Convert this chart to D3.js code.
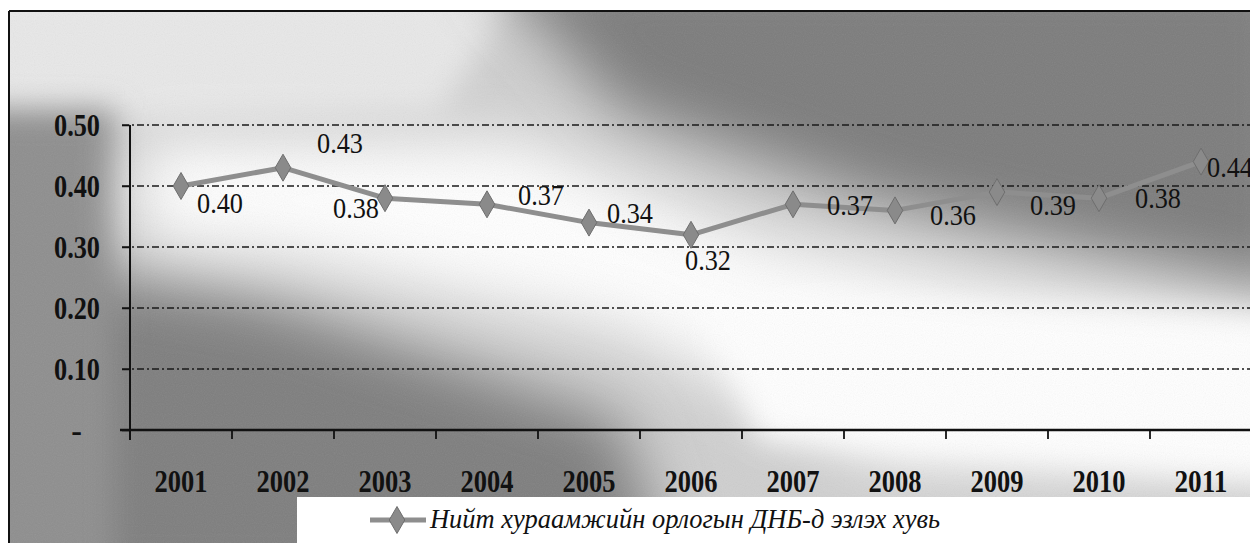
<!DOCTYPE html>
<html>
<head>
<meta charset="utf-8">
<script src="https://cdn.jsdelivr.net/npm/d3@7"></script>
<style>
  html, body { margin: 0; padding: 0; background: #fff; }
  svg { display: block; }
</style>
</head>
<body>
<div id="chart"></div>
<script>
// data
const years = ["2001", "2002", "2003", "2004", "2005", "2006", "2007", "2008", "2009", "2010", "2011"];
const shares = [0.40, 0.43, 0.38, 0.37, 0.34, 0.32, 0.37, 0.36, 0.39, 0.38, 0.44];
const yTicks = [0, 0.1, 0.2, 0.3, 0.4, 0.5];
const seriesName = "Нийт хураамжийн орлогын ДНБ-д эзлэх хувь";

// label placement relative to each point (dx, dy to baseline)
const labelOffsets = [[16, 27], [34, -15], [-52, 20], [31, 1], [18, 0], [-6, 35], [34, 11], [35, 15], [33, 23], [36, 10], [6, 15]];

const W = 1250, H = 543;
const plot = { left: 130, right: 1252, top: 125, bottom: 430 };

const svg = d3.select("#chart")
    .append("svg")
    .attr("width", W)
    .attr("height", H);

const defs = svg.append("defs");
defs.append("filter").attr("id", "blur")
    .attr("x", "-50%").attr("y", "-50%").attr("width", "200%").attr("height", "200%")
    .append("feGaussianBlur").attr("stdDeviation", 30);
defs.append("filter").attr("id", "blurSmall")
    .attr("x", "-50%").attr("y", "-50%").attr("width", "200%").attr("height", "200%")
    .append("feGaussianBlur").attr("stdDeviation", 15);

const grain = defs.append("filter").attr("id", "grain");
grain.append("feTurbulence").attr("type", "fractalNoise").attr("baseFrequency", 0.9).attr("numOctaves", 1).attr("seed", 4);
grain.append("feColorMatrix").attr("type", "saturate").attr("values", 0);

defs.append("clipPath").attr("id", "frame")
    .append("rect").attr("x", 9).attr("y", 11).attr("width", W - 9).attr("height", H - 11);

// background: scanned gradient look
const bg = svg.append("g").attr("clip-path", "url(#frame)");
bg.append("rect").attr("x", 9).attr("y", 11).attr("width", W).attr("height", H).attr("fill", "#cfcfcf");

const blobs = [
    { pts: [[-40, -40], [540, -40], [440, 110], [-40, 125]], fill: "#e8e8e8", f: "blurSmall" },
    { pts: [[-40, 250], [260, 300], [620, 420], [680, 600], [-40, 600]], fill: "#7e7e7e", f: "blur" },
    { pts: [[-40, 110], [115, 110], [115, 600], [-40, 600]], fill: "#8e8e8e", f: "blurSmall" },
    { pts: [[480, -40], [1300, -40], [1300, 290], [1100, 250], [880, 200], [620, 110]], fill: "#7c7c7c", f: "blur" },
    { pts: [[140, 140], [520, 140], [760, 240], [1000, 290], [1300, 330], [1300, 470], [880, 460], [620, 330], [300, 260], [140, 240]], fill: "#ffffff", f: "blur" },
    { pts: [[700, 300], [1300, 320], [1300, 480], [760, 440]], fill: "#ffffff", f: "blurSmall" }
];
bg.selectAll("path.blob")
    .data(blobs)
    .enter()
    .append("path")
    .attr("class", "blob")
    .attr("d", d => "M" + d.pts.join("L") + "Z")
    .attr("fill", d => d.fill)
    .attr("filter", d => `url(#${d.f})`);

bg.append("rect")
    .attr("x", 9).attr("y", 11).attr("width", W).attr("height", H)
    .attr("filter", "url(#grain)")
    .attr("opacity", 0.12);

// white legend box
svg.append("rect")
    .attr("x", 297).attr("y", 497).attr("width", W - 297).attr("height", H - 497)
    .attr("fill", "#ffffff");

// frame lines
svg.append("line").attr("x1", 9).attr("x2", W).attr("y1", 11).attr("y2", 11)
    .attr("stroke", "#111").attr("stroke-width", 2);
svg.append("line").attr("x1", 9).attr("x2", 9).attr("y1", 11).attr("y2", H)
    .attr("stroke", "#111").attr("stroke-width", 2);

// scales
const x = d3.scaleBand().domain(years).range([plot.left, plot.right]);
const y = d3.scaleLinear().domain([0, 0.5]).range([plot.bottom, plot.top]);
const cx = d => x(d) + x.bandwidth() / 2;

// gridlines
svg.append("g")
    .selectAll("line")
    .data(yTicks.filter(d => d > 0))
    .enter()
    .append("line")
    .attr("x1", plot.left - 8)
    .attr("x2", W)
    .attr("y1", d => y(d))
    .attr("y2", d => y(d))
    .attr("stroke", "#1a1a1a")
    .attr("stroke-width", 1.6)
    .attr("stroke-dasharray", "7,3,2,3");

// y axis
const yAxis = svg.append("g")
    .attr("transform", `translate(${plot.left},0)`)
    .call(d3.axisLeft(y).tickValues(yTicks).tickSize(8).tickPadding(22)
        .tickFormat(d => d === 0 ? "-" : d3.format(".2f")(d)));
yAxis.select(".domain").attr("stroke", "#111").attr("stroke-width", 2)
    .attr("d", `M0,${plot.top}V${plot.bottom + 10}`);
yAxis.selectAll(".tick line").attr("stroke", "#111").attr("stroke-width", 1.5);
yAxis.selectAll(".tick text")
    .attr("font-family", "'Liberation Serif', 'Times New Roman', serif")
    .attr("font-weight", "bold")
    .attr("font-size", 32)
    .attr("fill", "#111")
    .attr("dy", "0.34em")
    .each(function (d) {
        if (d > 0) d3.select(this).attr("textLength", 46).attr("lengthAdjust", "spacingAndGlyphs");
        else d3.select(this).attr("x", -48);
    });

// x axis: ticks between categories
const xAxis = svg.append("g")
    .attr("transform", `translate(0,${plot.bottom})`);
xAxis.append("line")
    .attr("x1", plot.left - 10).attr("x2", W)
    .attr("stroke", "#111").attr("stroke-width", 2.5);
xAxis.selectAll("line.tick")
    .data(years.slice(1))
    .enter()
    .append("line")
    .attr("class", "tick")
    .attr("x1", d => x(d)).attr("x2", d => x(d))
    .attr("y1", 0).attr("y2", 9)
    .attr("stroke", "#111").attr("stroke-width", 1.8);
xAxis.selectAll("text")
    .data(years)
    .enter()
    .append("text")
    .attr("x", d => cx(d))
    .attr("y", 62)
    .attr("text-anchor", "middle")
    .attr("font-family", "'Liberation Serif', 'Times New Roman', serif")
    .attr("font-weight", "bold")
    .attr("font-size", 31)
    .attr("fill", "#111")
    .attr("textLength", 53)
    .attr("lengthAdjust", "spacingAndGlyphs")
    .text(d => d);

// series line
const points = years.map((yr, i) => ({ year: yr, value: shares[i] }));
const line = d3.line()
    .x(d => cx(d.year))
    .y(d => y(d.value));

svg.append("path")
    .datum(points)
    .attr("fill", "none")
    .attr("stroke", "#8e8e8e")
    .attr("stroke-width", 5)
    .attr("stroke-linejoin", "round")
    .attr("d", line);

const diamond = d3.symbol().type(d3.symbolDiamond).size(210);
svg.append("g")
    .selectAll("path")
    .data(points)
    .enter()
    .append("path")
    .attr("transform", d => `translate(${cx(d.year)},${y(d.value)})`)
    .attr("d", diamond)
    .attr("fill", "#8a8a8a")
    .attr("stroke", "#6e6e6e")
    .attr("stroke-width", 1);

// data labels
svg.append("g")
    .selectAll("text")
    .data(points)
    .enter()
    .append("text")
    .attr("x", (d, i) => cx(d.year) + labelOffsets[i][0])
    .attr("y", (d, i) => y(d.value) + labelOffsets[i][1])
    .attr("font-family", "'Liberation Serif', 'Times New Roman', serif")
    .attr("font-size", 30)
    .attr("fill", "#111")
    .attr("textLength", 46)
    .attr("lengthAdjust", "spacingAndGlyphs")
    .text(d => d3.format(".2f")(d.value));

// legend
const legend = svg.append("g").attr("transform", "translate(0,520)");
legend.append("line")
    .attr("x1", 370).attr("x2", 426)
    .attr("stroke", "#8e8e8e").attr("stroke-width", 5);
legend.append("path")
    .attr("transform", "translate(397,0)")
    .attr("d", diamond)
    .attr("fill", "#8a8a8a")
    .attr("stroke", "#6e6e6e");
legend.append("text")
    .attr("x", 430)
    .attr("y", 8)
    .attr("font-family", "'Liberation Serif', 'Times New Roman', serif")
    .attr("font-style", "italic")
    .attr("font-size", 28)
    .attr("fill", "#111")
    .attr("textLength", 510)
    .attr("lengthAdjust", "spacingAndGlyphs")
    .text(seriesName);
</script>
</body>
</html>
